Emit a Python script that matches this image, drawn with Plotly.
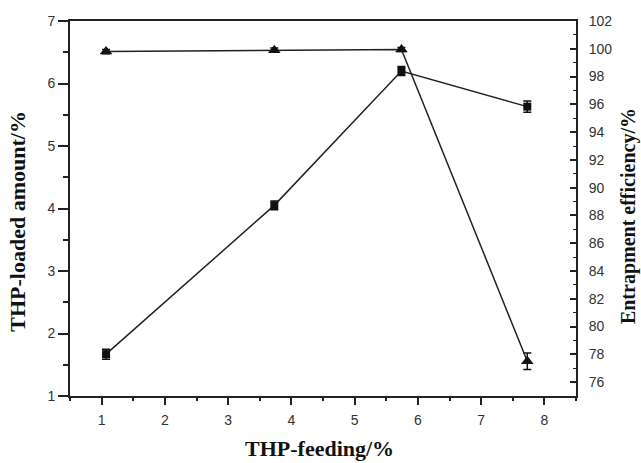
import plotly.graph_objects as go

# THP-feeding (%)
feeding = [1.07, 3.73, 5.74, 7.73]
# THP-loaded amount (%) - squares, left axis
loaded = [1.67, 4.05, 6.2, 5.63]
loaded_err = [0.08, 0.07, 0.07, 0.09]
# Entrapment efficiency (%) - triangles, right axis
entrap = [99.8, 99.9, 99.95, 77.5]
entrap_err = [0.15, 0.15, 0.15, 0.6]

x_title = "THP-feeding/%"
y_title = "THP-loaded amount/%"
y2_title = "Entrapment efficiency/%"

tick_font = dict(family="Liberation Sans, Arial, sans-serif", size=14, color="#333")
title_font = dict(family="Liberation Serif, Times New Roman, serif", size=22, color="#111", weight="bold")
title_font_r = dict(family="Liberation Serif, Times New Roman, serif", size=20, color="#111", weight="bold")

fig = go.Figure()
fig.add_trace(go.Scatter(
    x=feeding, y=loaded, mode="lines+markers",
    line=dict(color="#222", width=1.5),
    marker=dict(symbol="square", size=8, color="#111"),
    error_y=dict(type="data", array=loaded_err, color="#111", thickness=1.5, width=4),
    showlegend=False,
))
fig.add_trace(go.Scatter(
    x=feeding, y=entrap, mode="lines+markers", yaxis="y2",
    line=dict(color="#222", width=1.5),
    marker=dict(symbol="triangle-up", size=11, color="#111"),
    error_y=dict(type="data", array=entrap_err, color="#111", thickness=1.5, width=4),
    showlegend=False,
))

fig.update_layout(
    width=641, height=463,
    margin=dict(l=70, r=65, t=21, b=67),
    plot_bgcolor="white", paper_bgcolor="white",
    xaxis=dict(
        range=[0.5, 8.5], dtick=1, tick0=1,
        showline=True, linecolor="#222", linewidth=2, mirror=True,
        ticks="outside", ticklen=7, tickwidth=2, tickcolor="#222",
        minor=dict(dtick=0.5, tick0=0.5, ticks="outside", ticklen=3, tickwidth=1.5, tickcolor="#222"),
        showgrid=False, zeroline=False,
        tickfont=tick_font, ticklabelstandoff=3,
    ),
    yaxis=dict(
        range=[1, 7], dtick=1, tick0=1,
        showline=True, linecolor="#222", linewidth=2,
        ticks="outside", ticklen=10, tickwidth=2, tickcolor="#222",
        minor=dict(dtick=0.5, tick0=1, ticks="outside", ticklen=5, tickwidth=1.5, tickcolor="#222"),
        showgrid=False, zeroline=False,
        tickfont=tick_font,
    ),
    yaxis2=dict(
        overlaying="y", side="right",
        range=[75, 102], dtick=2, tick0=76,
        showline=True, linecolor="#222", linewidth=2,
        ticks="inside", ticklen=6, tickwidth=1.5, tickcolor="#222",
        minor=dict(dtick=1, tick0=75, ticks="inside", ticklen=3, tickwidth=1, tickcolor="#222"),
        showgrid=False, zeroline=False,
        tickfont=tick_font, ticklabelstandoff=8,
    ),
    annotations=[
        dict(text=x_title, xref="paper", yref="paper", x=0.494, y=-0.141,
             xanchor="center", yanchor="middle", showarrow=False, font=title_font),
        dict(text=y_title, xref="paper", yref="paper", x=-0.103, y=0.467,
             xanchor="center", yanchor="middle", showarrow=False, textangle=-90, font=title_font),
        dict(text=y2_title, xref="paper", yref="paper", x=1.103, y=0.48,
             xanchor="center", yanchor="middle", showarrow=False, textangle=-90, font=title_font_r),
    ],
)

fig.write_html("out.html")
